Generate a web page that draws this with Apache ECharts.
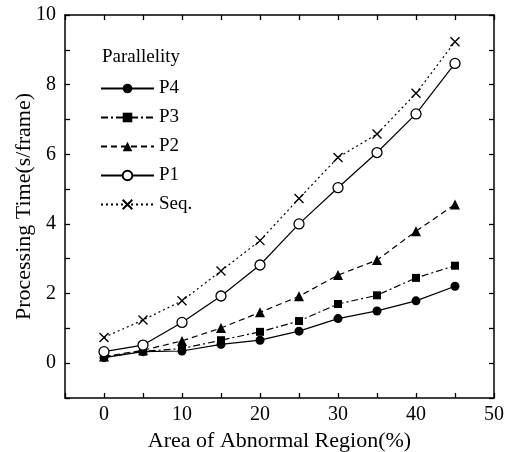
<!DOCTYPE html>
<html>
<head>
<meta charset="utf-8">
<script src="https://cdn.jsdelivr.net/npm/echarts@6/dist/echarts.min.js"></script>
<style>html,body{margin:0;padding:0;background:#fff;}#c{width:506px;height:452px;}</style>
</head>
<body>
<div id="c"></div>
<script>
var xValues = [0, 5, 10, 15, 20, 25, 30, 35, 40, 45];
var p4 = [0.16, 0.33, 0.35, 0.54, 0.66, 0.92, 1.28, 1.50, 1.79, 2.21];
var p3 = [0.18, 0.34, 0.42, 0.66, 0.90, 1.21, 1.70, 1.95, 2.45, 2.80];
var p2 = [0.19, 0.37, 0.64, 1.01, 1.46, 1.92, 2.53, 2.96, 3.79, 4.56];
var p1 = [0.33, 0.52, 1.17, 1.93, 2.82, 4.00, 5.04, 6.05, 7.16, 8.61];
var seq = [0.74, 1.24, 1.79, 2.65, 3.52, 4.73, 5.91, 6.58, 7.75, 9.23];
var seriesNames = ['P4', 'P3', 'P2', 'P1', 'Seq.'];
var legendTitle = 'Parallelity';
var xTitle = 'Area of Abnormal Region(%)';
var yTitle = 'Processing Time(s/frame)';

var FONT = 'Liberation Serif';
function pairs(arr){ return xValues.map(function(x,i){ return [x, arr[i]]; }); }

var chart = echarts.init(document.getElementById('c'), null, {renderer:'canvas'});
var axisCommon = {
  axisLine:{show:true, onZero:false, lineStyle:{color:'#000', width:1.5}},
  splitLine:{show:false}
};
function mk(name, data, symbol, size, lineType, itemStyle){
  return {
    name:name, type:'line', data:pairs(data), symbol:symbol, symbolSize:size,
    showAllSymbol:true, showSymbol:true, animation:false,
    lineStyle:{color:'#000', width:1.2, type:lineType},
    itemStyle:itemStyle, z: 3
  };
}
var option = {
  animation:false,
  backgroundColor:'#fff',
  textStyle:{fontFamily:FONT, color:'#000'},
  title:{text:legendTitle, left:102, top:48, padding:0, textStyle:{fontFamily:FONT, fontWeight:'normal', fontSize:19, color:'#000'}},
  legend:{
    orient:'vertical', left:100, top:79, padding:0, itemWidth:53, itemHeight:12, itemGap:10,
    data:seriesNames,
    textStyle:{fontFamily:FONT, fontSize:19, color:'#000'}
  },
  grid:{left:65, right:12, top:15, bottom:54, containLabel:false, outerBoundsMode:'none'},
  xAxis:[
    Object.assign({type:'value', min:-5, max:50, interval:5, position:'bottom',
      name:xTitle, nameLocation:'middle', nameGap:31,
      nameTextStyle:{fontFamily:FONT, fontSize:22, color:'#000'},
      axisTick:{show:true, inside:true, length:5, lineStyle:{color:'#000', width:1.3}},
      axisLabel:{fontFamily:FONT, fontSize:20, color:'#000', margin:7,
        formatter:function(v){ return (v>=0 && v%10===0) ? String(v) : ''; }}
    }, axisCommon),
    Object.assign({type:'value', min:-5, max:50, interval:5, position:'top',
      axisTick:{show:true, inside:true, length:5, lineStyle:{color:'#000', width:1.3}},
      axisLabel:{show:false}
    }, axisCommon)
  ],
  yAxis:[
    Object.assign({type:'value', min:-1, max:10, interval:1, position:'left',
      name:yTitle, nameLocation:'middle', nameGap:30, nameRotate:90,
      nameMoveOverlap:false,
      nameTextStyle:{fontFamily:FONT, fontSize:22, color:'#000'},
      axisTick:{show:true, inside:true, length:5, lineStyle:{color:'#000', width:1.3}},
      axisLabel:{fontFamily:FONT, fontSize:20, color:'#000', margin:9,
        formatter:function(v){ return (v>=0 && v%2===0) ? String(v) : ''; }}
    }, axisCommon),
    Object.assign({type:'value', min:-1, max:10, interval:1, position:'right',
      axisTick:{show:true, inside:true, length:5, lineStyle:{color:'#000', width:1.3}},
      axisLabel:{show:false}
    }, axisCommon)
  ],
  series:[
    mk(seriesNames[0], p4, 'circle', 9, 'solid', {color:'#000'}),
    mk(seriesNames[1], p3, 'rect', 8, [7,3,2,3], {color:'#000'}),
    mk(seriesNames[2], p2, 'triangle', 10, [6,4], {color:'#000'}),
    mk(seriesNames[3], p1, 'circle', 10, 'solid', {color:'#fff', borderColor:'#000', borderWidth:1.3}),
    mk(seriesNames[4], seq, 'path://M0,0L10,10M10,0L0,10', 9, [2,3], {color:'none', borderColor:'#000', borderWidth:1.4})
  ]
};
chart.setOption(option);
</script>
</body>
</html>
